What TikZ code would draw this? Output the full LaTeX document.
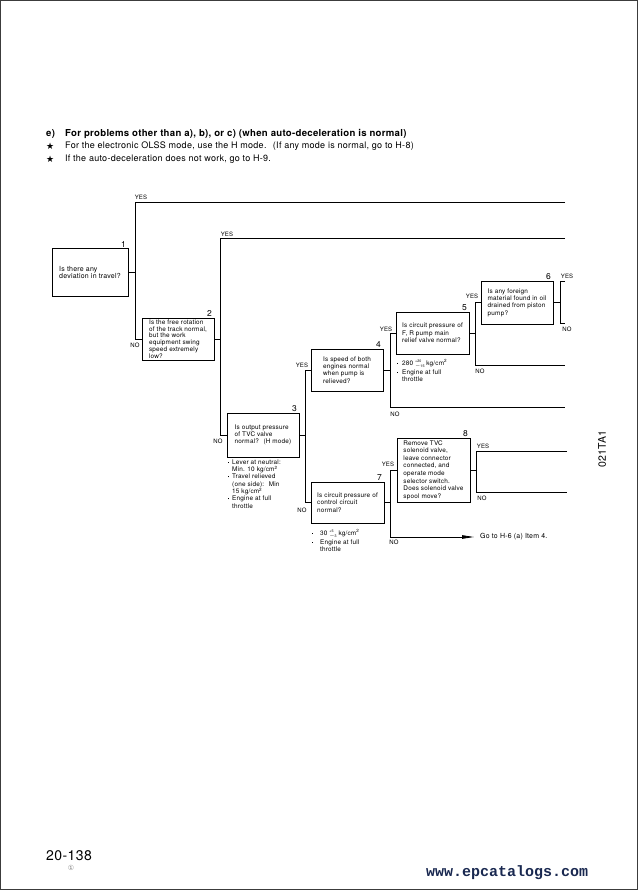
\documentclass[tikz,border=0pt]{standalone}
\usepackage{fontspec}
\setmainfont[LetterSpace=3]{TeX Gyre Heros}
\newfontfamily\symfont{DejaVu Sans}
\newfontfamily\webfont{Liberation Mono}
\usetikzlibrary{arrows.meta}
\definecolor{framegray}{RGB}{60,60,60}
\definecolor{webnavy}{RGB}{25,40,80}
\newcommand{\boxfont}{\fontsize{6.4}{7.3}\selectfont}
\newcommand{\hdfont}{\fontsize{9}{10}\selectfont}
\newcommand{\bul}[1]{\makebox[#1][l]{\raisebox{1.6pt}{\rule{1pt}{1pt}}}}
\newcommand{\tol}[2]{\kern1.8pt{\fontsize{3.6}{3.6}\selectfont\makebox[0pt][l]{\raisebox{3.1pt}{#1}}\raisebox{-2.2pt}{#2}}\kern1.8pt}
\tikzset{
  qbox/.style={draw, line width=1pt, align=left, font=\boxfont, inner sep=0pt},
  qnum/.style={anchor=south east, xshift=-2pt, inner sep=0.5pt, font=\fontsize{8.5}{8.5}\selectfont},
  ans/.style={font=\fontsize{6}{6}\selectfont, inner sep=0pt},
  note/.style={anchor=north west, align=left, font=\boxfont, inner sep=0pt},
  hdtext/.style={anchor=west, inner sep=0pt, font=\hdfont},
  flow/.style={line width=0.8pt},
}
\begin{document}
\begin{tikzpicture}[x=1pt,y=-1pt]
\useasboundingbox (0,0) rectangle (638,890);
\draw[framegray, line width=1.2pt] (0.6,0.6) rectangle (637.4,889.4);

\node[hdtext, font=\fontsize{9.6}{10}\selectfont\bfseries] (hde) at (46,134) {e)};
\node[hdtext, font=\fontsize{9.6}{10}\selectfont\bfseries] (hd) at (65,134) {For problems other than a), b), or c) (when auto-deceleration is normal)};
\node[hdtext, font=\symfont\hdfont] (st1) at (46,146.5) {★};
\node[hdtext] (hl1) at (65,146.5) {For the electronic OLSS mode, use the H mode. \ (If any mode is normal, go to H-8)};
\node[hdtext, font=\symfont\hdfont] (st2) at (46,159) {★};
\node[hdtext] (hl2) at (65,159) {If the auto-deceleration does not work, go to H-9.};

\node[qbox, minimum width=76pt, minimum height=47pt, font=\fontsize{7}{7.6}\selectfont] (b1) at (90,272.5) {Is there any\\deviation in travel?};
\node[qbox, minimum width=72pt, minimum height=42pt, font=\fontsize{6.4}{6.8}\selectfont] (b2) at (178,339) {Is the free rotation\\of the track normal,\\but the work\\equipment swing\\speed extremely\\low?};
\node[qbox, minimum width=72pt, minimum height=44pt] (b3) at (263,435) {Is output pressure\\of TVC valve\\normal? \ (H mode)};
\node[qbox, minimum width=72pt, minimum height=42pt] (b4) at (347,370) {Is speed of both\\engines normal\\when pump is\\relieved?};
\node[qbox, minimum width=73pt, minimum height=42pt] (b5) at (432.5,333) {Is circuit pressure of\\F, R pump main\\relief valve normal?};
\node[qbox, minimum width=72pt, minimum height=43pt] (b6) at (517,302.5) {Is any foreign\\material found in oil\\drained from piston\\pump?};
\node[qbox, minimum width=73pt, minimum height=41pt] (b7) at (347.5,502.5) {Is circuit pressure of\\control circuit\\normal?};
\node[qbox, minimum width=73pt, minimum height=64pt, font=\fontsize{6.4}{7.6}\selectfont] (b8) at (433.5,470) {Remove TVC\\solenoid valve,\\leave connector\\connected, and\\operate mode\\selector switch.\\Does solenoid valve\\spool move?};

\node[qnum] (n1) at (b1.north east) {1};
\node[qnum] (n2) at (b2.north east) {2};
\node[qnum] (n3) at (b3.north east) {3};
\node[qnum] (n4) at (b4.north east) {4};
\node[qnum] (n5) at (b5.north east) {5};
\node[qnum] (n6) at (b6.north east) {6};
\node[qnum] (n7) at (b7.north east) {7};
\node[qnum] (n8) at (b8.north east) {8};

\node[note] (m3) at (228,459.5) {\bul{4pt}Lever at neutral:\\\hspace*{4pt}Min. 10 kg/cm\textsuperscript{2}\\\bul{4pt}Travel relieved\\\hspace*{4pt}(one side): \ Min\\\hspace*{4pt}15 kg/cm\textsuperscript{2}\\\bul{4pt}Engine at full\\\hspace*{4pt}throttle};
\node[note] (m5) at (397,359.5) {\bul{5pt}280\tol{+20}{$-$15}kg/cm\textsuperscript{2}\\\bul{5pt}Engine at full\\\hspace*{5pt}throttle};
\node[note] (m7) at (312,529.5) {\bul{8pt}30\tol{+5}{$-$3}kg/cm\textsuperscript{2}\\\bul{8pt}Engine at full\\\hspace*{8pt}throttle};
\node[anchor=west, font=\fontsize{7}{7}\selectfont, inner xsep=6pt, inner ysep=0pt] (go) at (474,537) {Go to H-6 (a) Item 4.};

\coordinate (e1) at (565,202);
\coordinate (k1) at (135,339);
\draw[flow] (e1) -| (k1) -- (b2.west);
\draw[flow] (b1.east) -- (b1.east -| k1);
\coordinate (e2) at (565,238);
\coordinate (k2) at (220,435);
\draw[flow] (e2) -| (k2) -- (b3.west);
\draw[flow] (b2.east) -- (b2.east -| k2);
\coordinate (k3) at (305,502.5);
\draw[flow] (b4.west) -| (k3) -- (b7.west);
\draw[flow] (b3.east) -- (b3.east -| k3);
\coordinate (k4) at (390,407);
\coordinate (e4) at (565,407);
\draw[flow] (b5.west) -| (k4) -- (e4);
\draw[flow] (b4.east) -- (b4.east -| k4);
\coordinate (k5) at (475,365);
\coordinate (e5) at (565,365);
\draw[flow] (b6.west) -| (k5) -- (e5);
\draw[flow] (b5.east) -- (b5.east -| k5);
\coordinate (s6) at (565,281);
\coordinate (k6) at (560,323);
\coordinate (e6) at (565,323);
\draw[flow] (s6) -| (k6) -- (e6);
\draw[flow] (b6.east) -- (b6.east -| k6);
\coordinate (k7) at (390,537);
\draw[flow, -{Triangle[length=12pt,width=3.5pt]}] (b8.west) -| (k7) -- (go.west);
\draw[flow] (b7.east) -- (b7.east -| k7);
\coordinate (s8) at (567,451);
\coordinate (k8) at (476,492);
\coordinate (e8) at (567,492);
\draw[flow] (s8) -| (k8) -- (e8);
\draw[flow] (b8.east) -- (b8.east -| k8);

\node[ans] (a1y) at (141,197) {YES};
\node[ans] (a1n) at (135,345) {NO};
\node[ans] (a2y) at (227,234) {YES};
\node[ans] (a2n) at (218,441) {NO};
\node[ans] (a3y) at (302,365) {YES};
\node[ans] (a3n) at (302,510) {NO};
\node[ans] (a4y) at (386,329) {YES};
\node[ans] (a4n) at (395,414) {NO};
\node[ans] (a5y) at (472,296) {YES};
\node[ans] (a5n) at (480,371) {NO};
\node[ans] (a6y) at (567,276) {YES};
\node[ans] (a6n) at (567,329) {NO};
\node[ans] (a7y) at (388,464) {YES};
\node[ans] (a7n) at (394,542) {NO};
\node[ans] (a8y) at (483,446) {YES};
\node[ans] (a8n) at (482,498) {NO};

\node[rotate=90, font=\fontsize{10.5}{10.5}\selectfont, inner sep=0pt] (fig) at (602,449) {021TA1};
\node[anchor=west, inner sep=0pt, font=\fontsize{14}{14}\selectfont] (pg) at (46,856) {20-138};
\node[inner sep=0pt, text=gray, font=\symfont\fontsize{7}{7}\selectfont] (rev) at (71,868) {①};
\node[anchor=west, inner sep=0pt, text=webnavy, font=\webfont\bfseries\fontsize{15}{15}\selectfont] (web) at (426,873) {www.epcatalogs.com};
\end{tikzpicture}
\end{document}
